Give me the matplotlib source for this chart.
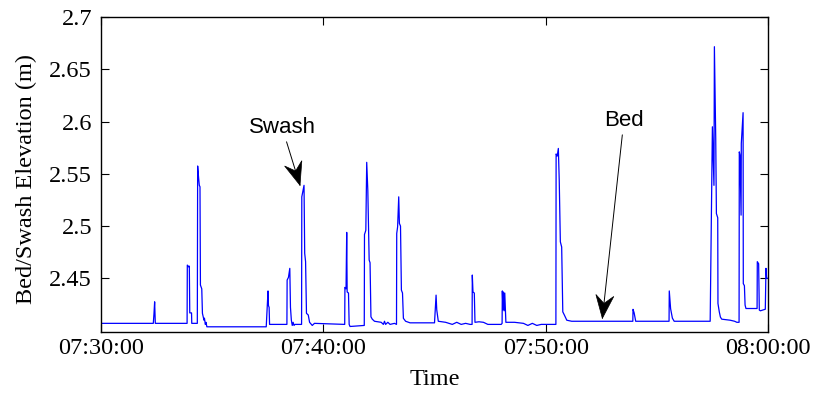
import numpy as np
import pandas as pd
import matplotlib
matplotlib.use("Agg")
import matplotlib.pyplot as plt
import matplotlib.dates as mdates
from matplotlib.patches import Polygon
from matplotlib.transforms import IdentityTransform

# Données (minutes après 07:30:00, élévation en m)
minutes = [
    0.0, 2.35, 2.38, 2.41, 2.44,
    3.87, 3.88, 3.95, 3.97, 3.99, 4.07, 4.08,
    4.33, 4.345, 4.39, 4.42, 4.45, 4.47, 4.53, 4.56, 4.60, 4.63, 4.65, 4.69, 4.72, 4.76,
    7.43, 7.51, 7.53, 7.56, 7.58,
    8.36, 8.37, 8.43, 8.49, 8.52, 8.56, 8.60, 8.64, 8.68, 8.72,
    9.02, 9.03, 9.10, 9.13, 9.16, 9.20, 9.24, 9.32, 9.38, 9.5, 9.6,
    10.96, 10.97, 11.02, 11.05, 11.07, 11.13, 11.16, 11.2,
    11.84, 11.85, 11.91, 11.95, 12.0, 12.06, 12.10, 12.14, 12.2, 12.3, 12.6, 12.7,
    12.75, 12.8, 12.9, 13.0, 13.2,
    13.29, 13.30, 13.34, 13.39, 13.42, 13.47, 13.51, 13.56, 13.60, 13.7, 13.9, 14.9,
    15.0, 15.03, 15.07, 15.10, 15.17, 15.5, 15.8, 16.0, 16.2, 16.4, 16.6,
    16.69, 16.70, 16.73, 16.79, 16.82, 17.0, 17.2, 17.4, 18.0,
    18.04, 18.05, 18.08, 18.10, 18.13, 18.16, 18.19, 18.21, 18.6, 19.0, 19.2, 19.4,
    19.6, 19.8, 20.0, 20.45,
    20.46, 20.47, 20.52, 20.57, 20.61, 20.66, 20.72, 20.77, 20.84, 20.95, 21.17,
    23.92, 23.93, 23.98, 24.05,
    25.55, 25.56, 25.62, 25.70, 25.78, 27.40,
    27.42, 27.50, 27.54, 27.57, 27.59, 27.65, 27.68, 27.74, 27.75, 27.81, 27.86,
    27.92, 28.3, 28.5, 28.6, 28.70,
    28.71, 28.74, 28.79, 28.80, 28.88, 28.89, 28.94, 28.97, 29.01, 29.51,
    29.52, 29.58, 29.61, 29.66, 29.88, 29.91, 29.94, 30.0,
]
elevation = [
    2.407, 2.407, 2.416, 2.4276, 2.407,
    2.407, 2.4627, 2.461, 2.4617, 2.417, 2.417, 2.407,
    2.407, 2.5575, 2.5456, 2.539, 2.5376, 2.4436, 2.440, 2.4166, 2.413, 2.410, 2.412, 2.406, 2.408, 2.4037,
    2.4037, 2.438, 2.424, 2.4223, 2.406,
    2.406, 2.4484, 2.451, 2.4596, 2.4223, 2.410, 2.405, 2.408, 2.405, 2.406,
    2.406, 2.528, 2.536, 2.539, 2.474, 2.466, 2.4166, 2.415, 2.408, 2.405, 2.407,
    2.406, 2.4414, 2.440, 2.494, 2.437, 2.436, 2.406, 2.404,
    2.405, 2.492, 2.496, 2.561, 2.534, 2.4675, 2.465, 2.4133, 2.411, 2.409, 2.408, 2.406,
    2.409, 2.406, 2.408, 2.406, 2.407,
    2.406, 2.493, 2.4993, 2.528, 2.5026, 2.500, 2.4388, 2.436, 2.4118, 2.409, 2.4075, 2.4075,
    2.4075, 2.419, 2.434, 2.420, 2.409, 2.408, 2.406, 2.408, 2.406, 2.407, 2.406,
    2.406, 2.4532, 2.437, 2.436, 2.408, 2.4085, 2.408, 2.406, 2.406,
    2.407, 2.438, 2.420, 2.437, 2.419, 2.436, 2.419, 2.408, 2.408, 2.407, 2.405, 2.407,
    2.405, 2.406, 2.406, 2.406,
    2.406, 2.569, 2.567, 2.5743, 2.544, 2.485, 2.480, 2.418, 2.415, 2.410, 2.409,
    2.409, 2.4204, 2.417, 2.409,
    2.409, 2.438, 2.421, 2.412, 2.409, 2.409,
    2.445, 2.595, 2.563, 2.539, 2.6716, 2.584, 2.512, 2.508, 2.426, 2.418, 2.413,
    2.411, 2.410, 2.409, 2.408, 2.408,
    2.571, 2.568, 2.5105, 2.579, 2.6085, 2.445, 2.443, 2.4245, 2.4212, 2.4212,
    2.466, 2.464, 2.4197, 2.419, 2.4205, 2.4596, 2.45, 2.45,
]
xtick_labels = ["07:30:00", "07:40:00", "07:50:00", "08:00:00"]
ytick_values = [2.45, 2.5, 2.55, 2.6, 2.65, 2.7]

t0 = pd.Timestamp("2000-01-01 07:30:00")
temps = t0 + pd.to_timedelta(np.array(minutes), unit="min")

plt.rcParams["font.family"] = ["Liberation Serif", "DejaVu Serif"]

fig = plt.figure(figsize=(8.15, 4.01), dpi=100)
ax = fig.add_axes([0.124, 0.172, 0.8183, 0.7856])

ax.plot(temps, elevation, color=(0, 0, 1), lw=0.9)

ax.set_xlim(t0, t0 + pd.Timedelta(minutes=30))
ax.set_ylim(2.3987, 2.7)
ax.set_xticks([t0 + pd.Timedelta(minutes=10 * i) for i in range(4)])
ax.set_xticklabels(xtick_labels)
ax.set_yticks(ytick_values)
ax.set_yticklabels([f"{v:g}" for v in ytick_values])

ax.tick_params(direction="in", top=True, right=True, length=6, width=0.8,
               labelsize=17.5)
ax.tick_params(axis="x", pad=4.5)
ax.tick_params(axis="y", pad=6.5)
for s in ax.spines.values():
    s.set_linewidth(1.0)

ax.set_xlabel("Time", fontsize=17.5)
ax.set_ylabel("Bed/Swash Elevation (m)", fontsize=17.5)
ax.xaxis.set_label_coords(0.5, -0.117)
ax.yaxis.set_label_coords(-0.096, 0.485)

# Annotations (flèches style MATLAB, pointe concave)
def pos(m):
    return mdates.date2num(t0 + pd.Timedelta(minutes=m))

def fleche(texte, pointe, origine):
    ax.annotate(texte, xy=pointe, xytext=origine, ha="center", va="center",
                fontsize=16, family="Liberation Sans",
                arrowprops=dict(arrowstyle="-", color="k", lw=0.7,
                                shrinkA=1, shrinkB=0))
    p1 = ax.transData.transform(pointe)
    p0 = ax.transData.transform(origine)
    d = (p1 - p0) / np.hypot(*(p1 - p0))
    n = np.array([-d[1], d[0]])
    pts = [p1, p1 - 23 * d + 9 * n, p1 - 15 * d, p1 - 23 * d - 9 * n]
    ax.add_patch(Polygon(pts, closed=True, transform=IdentityTransform(),
                         fc="k", ec="k", lw=0.5, clip_on=False))

fleche("Swash", (pos(8.95), 2.539), (pos(8.14), 2.5946))
fleche("Bed", (pos(22.55), 2.4118), (pos(23.52), 2.6013))

fig.savefig("out.png", dpi=100)
